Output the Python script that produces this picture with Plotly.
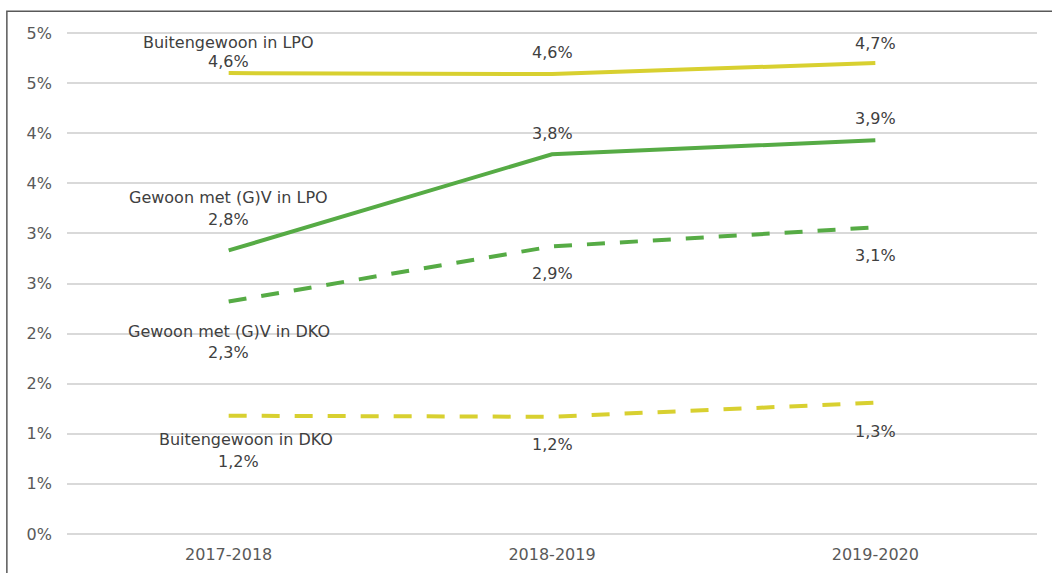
import plotly.graph_objects as go

categories = ["2017-2018", "2018-2019", "2019-2020"]
buiten_lpo = [4.60, 4.59, 4.70]
gewoon_lpo = [2.83, 3.79, 3.93]
gewoon_dko = [2.32, 2.87, 3.06]
buiten_dko = [1.18, 1.17, 1.31]
series_names = ["Buitengewoon in LPO", "Gewoon met (G)V in LPO",
                "Gewoon met (G)V in DKO", "Buitengewoon in DKO"]
tick_vals = [0, 0.5, 1, 1.5, 2, 2.5, 3, 3.5, 4, 4.5, 5]
tick_text = ["0%", "1%", "1%", "2%", "2%", "3%", "3%", "4%", "4%", "5%", "5%"]

YELLOW = "#d8d030"
GREEN = "#56ab45"
LABEL = "#404040"
FONT = "DejaVu Sans, Verdana, sans-serif"

# label placement (pixel offsets from each point): value label per point,
# plus (name offset, name xshift, value xshift) for the first point
series = [
    (series_names[0], buiten_lpo, YELLOW, "solid", [12, 22, 20], (31, 0, 0)),
    (series_names[1], gewoon_lpo, GREEN, "solid", [31, 21, 22], (53, 0, 0)),
    (series_names[2], gewoon_dko, GREEN, "18px,15px", [-51, -27, -28], (-30, 0, 0)),
    (series_names[3], buiten_dko, YELLOW, "18px,15px", [-46, -28, -29], (-24, 17, 10)),
]

fig = go.Figure()
annotations = []
for name, vals, color, dash, offs, first in series:
    fig.add_trace(go.Scatter(
        x=categories, y=vals, mode="lines", name=name,
        line=dict(color=color, width=4, dash=dash, shape="linear"),
        showlegend=False, hoverinfo="skip"))
    for i, (c, v) in enumerate(zip(categories, vals)):
        val_txt = f"{v:.1f}".replace(".", ",") + "%"
        xs = first[2] if i == 0 else 0
        annotations.append(dict(
            x=c, y=v, xref="x", yref="y", text=val_txt, showarrow=False,
            yshift=offs[i], xshift=xs, yanchor="middle", xanchor="center",
            font=dict(family=FONT, size=16, color=LABEL)))
        if i == 0:
            annotations.append(dict(
                x=c, y=v, xref="x", yref="y", text=name, showarrow=False,
                yshift=first[0], xshift=first[1], yanchor="middle",
                xanchor="center",
                font=dict(family=FONT, size=16, color=LABEL)))

fig.update_layout(
    width=1052, height=573,
    margin=dict(l=67, r=15, t=28, b=34),
    paper_bgcolor="white", plot_bgcolor="white",
    font=dict(family=FONT, color="#595959"),
    annotations=annotations,
    xaxis=dict(
        type="category", range=[-0.5, 2.5], showgrid=False, automargin=False,
        showline=False, zeroline=False, ticks="", ticklabelstandoff=4,
        tickfont=dict(family=FONT, size=16, color="#595959")),
    yaxis=dict(
        range=[-0.05, 5.05], tickvals=tick_vals, ticktext=tick_text,
        showgrid=True, gridcolor="#d9d9d9", gridwidth=1.5, automargin=False,
        zeroline=False, showline=False, ticks="", ticklabelstandoff=14,
        tickfont=dict(family=FONT, size=16, color="#595959")),
    shapes=[dict(
        type="rect", xref="paper", yref="paper",
        x0=-0.062, x1=1.2, y0=-0.3, y1=1.033,
        line=dict(color="#595959", width=1.5), layer="below")],
)

fig.write_html("out.html", config={"displayModeBar": False},
               post_script="document.body.style.margin='0px';")
